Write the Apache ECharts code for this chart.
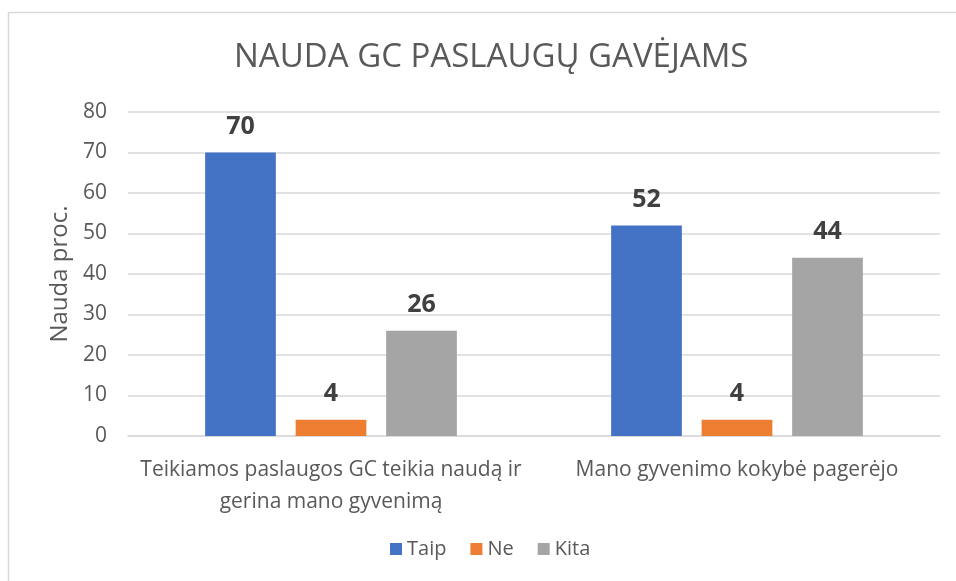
<!DOCTYPE html>
<html>
<head>
<meta charset="utf-8">
<script src="https://cdn.jsdelivr.net/npm/echarts@6/dist/echarts.min.js"></script>
<style>
  html, body { margin: 0; padding: 0; background: #fff; }
  #chart { width: 956px; height: 581px; }
</style>
</head>
<body>
<div id="chart"></div>
<script>
// duomenys
var categories = ['Teikiamos paslaugos GC teikia naudą ir\ngerina mano gyvenimą', 'Mano gyvenimo kokybė pagerėjo'];
var seriesNames = ['Taip', 'Ne', 'Kita'];
var taip = [70, 52];
var ne = [4, 4];
var kita = [26, 44];
var colors = ['#4472C4', '#ED7D31', '#A5A5A5'];

var chart = echarts.init(document.getElementById('chart'));
var font = '"Open Sans", "Noto Sans", sans-serif';

function makeSeries(name, data) {
    return {
        name: name,
        type: 'bar',
        data: data,
        barGap: '28%',
        barCategoryGap: '38%',
        label: {
            show: true,
            position: 'top',
            distance: 13,
            fontFamily: font,
            fontSize: 25,
            fontWeight: 'bold',
            color: '#404040'
        }
    };
}

var option = {
    color: colors,
    textStyle: { fontFamily: font },
    graphic: [{
        type: 'rect',
        shape: { x: 8.5, y: 12.5, width: 960, height: 580 },
        style: { fill: 'none', stroke: '#D9D9D9', lineWidth: 1.5 },
        silent: true
    }],
    title: {
        text: 'NAUDA GC PASLAUGŲ GAVĖJAMS',
        left: 229,
        top: 36,
        textStyle: { fontFamily: font, fontSize: 33, fontWeight: 'normal', color: '#595959' }
    },
    legend: {
        data: seriesNames,
        bottom: 17,
        left: 385,
        itemWidth: 12,
        itemHeight: 12,
        itemGap: 24,
        icon: 'rect',
        textStyle: { fontFamily: font, fontSize: 20, color: '#595959' }
    },
    grid: { left: 128, right: 16, top: 112, bottom: 145 },
    xAxis: {
        type: 'category',
        data: categories,
        axisTick: { show: false },
        axisLine: { lineStyle: { color: '#D9D9D9', width: 1.5 } },
        axisLabel: { fontFamily: font, fontSize: 21, color: '#595959', margin: 18, lineHeight: 32, interval: 0 }
    },
    yAxis: {
        type: 'value',
        min: 0,
        max: 80,
        interval: 10,
        name: 'Nauda proc.',
        nameLocation: 'middle',
        nameGap: 56,
        nameRotate: 90,
        nameTextStyle: { fontFamily: font, fontSize: 24, color: '#595959' },
        axisLine: { show: false },
        axisTick: { show: false },
        axisLabel: { fontFamily: font, fontSize: 21, color: '#595959', margin: 21 },
        splitLine: { lineStyle: { color: '#D9D9D9', width: 1.5 } }
    },
    series: [
        makeSeries(seriesNames[0], taip),
        makeSeries(seriesNames[1], ne),
        makeSeries(seriesNames[2], kita)
    ]
};

chart.setOption(option);
</script>
</body>
</html>
